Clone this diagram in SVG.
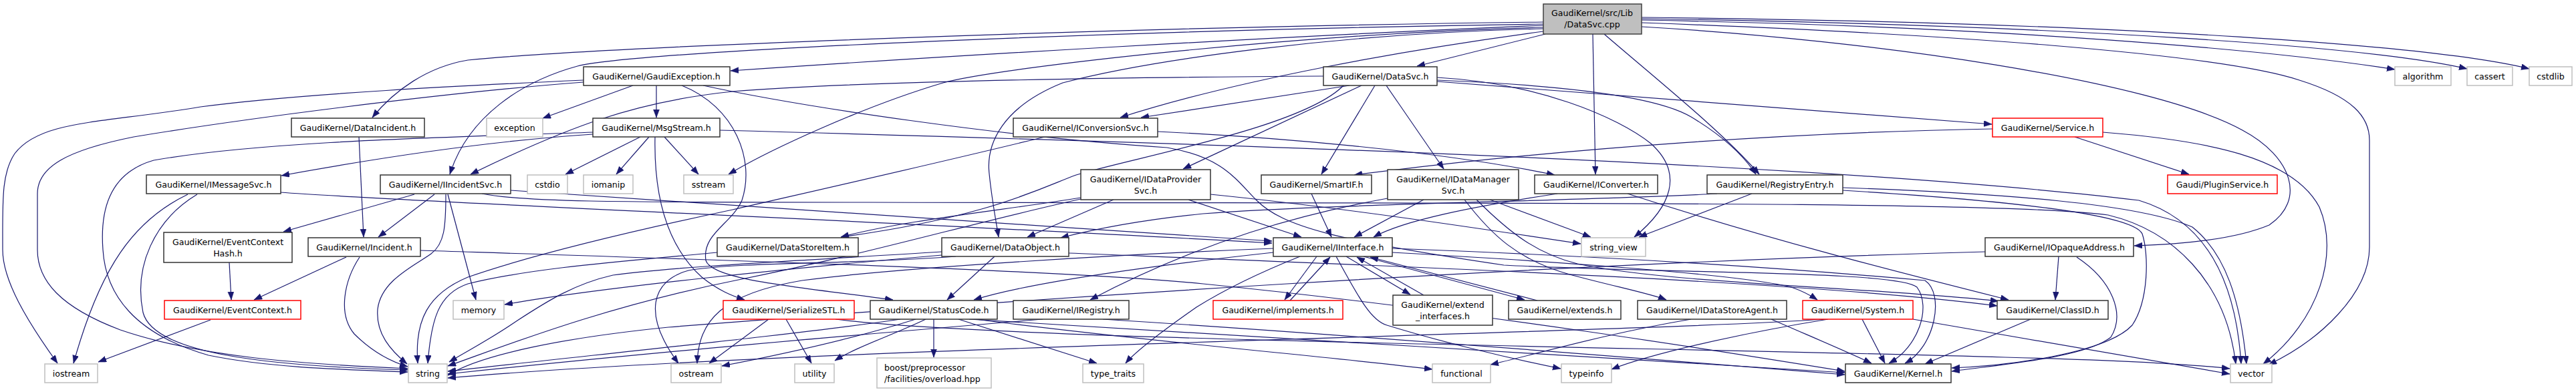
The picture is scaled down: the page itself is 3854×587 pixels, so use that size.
<svg xmlns="http://www.w3.org/2000/svg" width="3854" height="587" viewBox="0 0 3854 587">
<style>
.e{fill:none;stroke:#191970;stroke-width:1.2;marker-end:url(#ah)}
rect{fill:#fff;stroke-width:1.5}
.n rect{stroke:#333}
.g rect{stroke:#bfbfbf}
.r rect{stroke:#ff0000}
.root rect{fill:#bfbfbf;stroke:#404040}
text{font-family:"DejaVu Sans","Liberation Sans",sans-serif;font-size:12.6px;fill:#000;text-anchor:middle}
text.l{text-anchor:start}
</style>
<defs>
<marker id="ah" markerUnits="userSpaceOnUse" markerWidth="13" markerHeight="10" refX="12" refY="4.5" orient="auto"><path d="M0,0 L12,4.5 L0,9 z" fill="#191970" stroke="#191970" stroke-width="0.5"/></marker>
</defs>
<rect x="0" y="0" width="3854" height="587" style="fill:#fff;stroke:none"/>
<g id="edges">
<path class="e" d="M2309,38 C1900,55 1400,85 1093,106"/>
<path class="e" d="M2312,51 L2120,99"/>
<path class="e" d="M2309,33 C1700,40 900,70 700,90 C640,100 590,135 557,176"/>
<path class="e" d="M2309,36 C1700,45 960,75 864,99 C780,122 700,175 673,261"/>
<path class="e" d="M2309,43 C2000,50 1720,90 1590,124 C1500,160 1475,215 1480,260 C1484,300 1490,330 1494,355"/>
<path class="e" d="M2309,41 C1950,50 1500,100 1411,124 C1290,160 1150,225 1090,261"/>
<path class="e" d="M2309,47 C2100,75 1850,120 1676,176"/>
<path class="e" d="M2383,51 L2387,261"/>
<path class="e" d="M2400,51 C2480,120 2580,200 2632,261"/>
<path class="e" d="M2456,40 C2800,60 3220,120 3355,195 C3430,235 3450,300 3395,337 C3340,360 3260,366 3193,368"/>
<path class="e" d="M2456,34 C2900,50 3320,80 3440,120 C3520,145 3545,175 3545,210 L3545,370 C3545,440 3470,510 3394,546"/>
<path class="e" d="M2456,30 C3000,40 3400,75 3583,104"/>
<path class="e" d="M2456,28 C3100,38 3550,70 3691,103"/>
<path class="e" d="M2456,26 C3200,34 3650,70 3784,103"/>
<path class="e" d="M1980,114 C1600,116 1250,124 1096,137 C950,152 850,190 704,261"/>
<path class="e" d="M2019,128 L1707,176"/>
<path class="e" d="M2037,128 L1770,253"/>
<path class="e" d="M2057,128 L1977,261"/>
<path class="e" d="M2074,128 L2160,253"/>
<path class="e" d="M2150,120 C2350,128 2480,145 2530,175 C2580,205 2610,235 2627,261"/>
<path class="e" d="M2150,122 L2980,186"/>
<path class="e" d="M2150,116 C2300,124 2420,175 2470,215 C2520,260 2500,310 2445,355"/>
<path class="e" d="M2010,128 C1950,190 1700,235 1610,262 C1560,280 1480,325 1258,355"/>
<path class="e" d="M1563,205 C1400,245 1200,290 1096,314 C950,345 800,380 700,415 C640,440 620,480 625,544"/>
<path class="e" d="M1732,197 C1900,205 2150,225 2326,262"/>
<path class="e" d="M3104,205 L3275,261"/>
<path class="e" d="M2981,193 C2700,198 2350,220 2026,262"/>
<path class="e" d="M3146,198 C3300,210 3430,235 3470,310 C3500,380 3470,480 3386,545"/>
<path class="e" d="M620,291 L424,347"/>
<path class="e" d="M650,291 L566,355"/>
<path class="e" d="M667,291 C667,340 665,365 645,380 C620,398 570,420 565,463 C562,500 585,525 609,545"/>
<path class="e" d="M670,291 L712,449"/>
<path class="e" d="M764,285 C1000,300 1500,335 1903,361"/>
<path class="e" d="M721,290 C780,302 900,303 1300,303 C2200,305 3000,300 3154,322 C3250,345 3330,420 3345,545"/>
<path class="e" d="M281,291 C200,330 150,400 110,544"/>
<path class="e" d="M295,291 C230,330 200,400 214,468 C230,530 400,548 610,554"/>
<path class="e" d="M420,288 C600,302 1300,330 1903,364"/>
<path class="e" d="M343,393 L346,449"/>
<path class="e" d="M518,385 L380,449"/>
<path class="e" d="M538,385 C515,420 505,470 530,500 C555,525 580,540 610,549"/>
<path class="e" d="M629,375 C1100,390 1600,405 1800,425 C2200,465 2600,530 2760,556"/>
<path class="e" d="M537,205 L544,355"/>
<path class="e" d="M315,479 L147,542"/>
<path class="e" d="M947,128 L812,177"/>
<path class="e" d="M982,128 L982,176"/>
<path class="e" d="M873,120 C700,128 450,140 300,160 C150,185 60,180 22,230 C2,260 4,300 4,374 C4,420 40,480 86,544"/>
<path class="e" d="M873,123 C650,140 350,180 200,205 C100,225 56,250 56,290 L56,374 C56,420 90,460 180,494 C300,535 450,545 610,552"/>
<path class="e" d="M1020,128 C1100,160 1130,240 1110,300 C1095,335 1050,350 1056,390 C1065,420 1200,430 1336,449"/>
<path class="e" d="M1052,128 C1200,160 1500,205 1746,221 C1830,235 1850,270 1880,300 C1920,340 2000,360 2250,397 C2500,410 2840,405 2868,430 C2890,460 2870,520 2826,544"/>
<path class="e" d="M958,205 L846,261"/>
<path class="e" d="M971,205 L922,261"/>
<path class="e" d="M994,205 L1045,261"/>
<path class="e" d="M980,205 C978,300 1000,370 1050,415 C1075,435 1095,443 1114,449"/>
<path class="e" d="M887,201 C750,210 600,230 421,263"/>
<path class="e" d="M887,198 C700,205 400,210 230,240 C160,260 150,320 154,374 C158,440 200,500 312,532 C400,550 500,553 610,557"/>
<path class="e" d="M1077,195 C1700,212 2700,240 3200,300 C3300,330 3345,420 3353,545"/>
<path class="e" d="M1666,299 L1537,355"/>
<path class="e" d="M1778,299 L1947,355"/>
<path class="e" d="M1617,296 C1500,315 1350,330 1258,355"/>
<path class="e" d="M1617,298 C1450,335 1300,380 1100,420 C900,460 750,520 670,548"/>
<path class="e" d="M1811,291 C2000,310 2200,340 2365,365"/>
<path class="e" d="M1962,290 L1992,355"/>
<path class="e" d="M2130,299 L2026,355"/>
<path class="e" d="M2229,299 L2380,355"/>
<path class="e" d="M2191,299 C2230,350 2270,390 2352,412 C2420,430 2470,440 2493,449"/>
<path class="e" d="M2209,299 C2260,350 2300,380 2360,395 C2500,425 2800,430 2990,451"/>
<path class="e" d="M2076,297 C1950,320 1800,360 1631,449"/>
<path class="e" d="M2330,290 C2200,310 2100,330 2055,355"/>
<path class="e" d="M2435,290 C2650,360 2850,410 3005,449"/>
<path class="e" d="M2569,290 C2400,300 2000,305 1800,320 C1700,330 1630,345 1587,356"/>
<path class="e" d="M2621,290 L2452,355"/>
<path class="e" d="M2757,281 C3000,290 3200,305 3280,340 C3330,380 3352,450 3361,545"/>
<path class="e" d="M2757,285 C3000,300 3190,320 3205,350 C3215,380 3215,450 3190,487 C3150,530 3000,548 2920,551"/>
<path class="e" d="M3107,385 C3160,420 3180,470 3158,505 C3120,535 3000,545 2920,556"/>
<path class="e" d="M3080,384 L3075,449"/>
<path class="e" d="M2970,377 C2300,395 1500,450 1000,490 C850,505 720,530 670,562"/>
<path class="e" d="M1970,384 L1922,449"/>
<path class="e" d="M1930,450 L1990,385"/>
<path class="e" d="M2014,384 L2110,441"/>
<path class="e" d="M2130,442 L2030,385"/>
<path class="e" d="M2040,384 L2281,449"/>
<path class="e" d="M2300,450 L2050,385"/>
<path class="e" d="M1999,384 C2030,440 2050,480 2075,487 C2150,510 2250,535 2335,552"/>
<path class="e" d="M1945,384 C1880,410 1830,435 1790,460 C1740,495 1700,525 1684,544"/>
<path class="e" d="M1905,378 C1750,395 1550,420 1457,449"/>
<path class="e" d="M1905,372 C1700,380 1350,400 1200,420 C1080,440 1045,480 1043,544"/>
<path class="e" d="M2083,378 C2300,390 2600,410 2680,430 C2700,437 2710,443 2719,449"/>
<path class="e" d="M2083,372 C2300,380 2600,395 2880,420 C2910,440 2895,520 2850,544"/>
<path class="e" d="M1488,384 L1417,449"/>
<path class="e" d="M1599,379 C2000,395 2700,420 2988,458"/>
<path class="e" d="M1409,377 C1200,390 1000,400 917,412 C860,425 820,450 774,480 C730,510 700,525 672,542"/>
<path class="e" d="M1430,384 C1300,395 1100,392 1030,405 C975,420 960,470 1015,544"/>
<path class="e" d="M1409,382 C1200,400 900,430 755,456"/>
<path class="e" d="M1073,378 C950,390 800,400 700,425 C655,440 645,480 640,544"/>
<path class="e" d="M1150,478 L1061,544"/>
<path class="e" d="M1176,478 L1214,544"/>
<path class="e" d="M1250,478 C1500,510 2500,520 3000,535 C3200,540 3300,548 3336,552"/>
<path class="e" d="M1347,478 C1200,500 900,530 670,556"/>
<path class="e" d="M1370,478 C1300,500 1200,525 1080,548"/>
<path class="e" d="M1385,478 C1340,500 1280,520 1249,540"/>
<path class="e" d="M1397,478 L1397,535"/>
<path class="e" d="M1434,478 L1641,544"/>
<path class="e" d="M1460,478 C1700,510 2000,535 2143,553"/>
<path class="e" d="M1450,478 C1800,500 2400,535 2760,558"/>
<path class="e" d="M1560,478 C1300,500 1000,525 670,560"/>
<path class="e" d="M1650,478 C2000,500 2500,540 2760,561"/>
<path class="e" d="M2530,478 C2400,500 2300,530 2230,546"/>
<path class="e" d="M2650,478 C2700,500 2760,525 2800,544"/>
<path class="e" d="M2786,478 L2820,544"/>
<path class="e" d="M2735,478 C2600,500 2470,530 2411,553"/>
<path class="e" d="M2730,478 C2400,500 1200,520 670,566"/>
<path class="e" d="M2862,478 L3336,560"/>
<path class="e" d="M3038,478 L2880,545"/>
</g>
<g id="root" class="root"><rect x="2309" y="6" width="147" height="45"/><text x="2382" y="24">GaudiKernel/src/Lib</text><text x="2382" y="41">/DataSvc.cpp</text></g>
<g id="GaudiException" class="n"><rect x="873" y="100" width="219" height="28"/><text x="982" y="118.5">GaudiKernel/GaudiException.h</text></g>
<g id="DataSvcH" class="n"><rect x="1980" y="100" width="170" height="28"/><text x="2065" y="118.5">GaudiKernel/DataSvc.h</text></g>
<g id="algorithm" class="g"><rect x="3583" y="100" width="84" height="28"/><text x="3625" y="118.5">algorithm</text></g>
<g id="cassert" class="g"><rect x="3691" y="100" width="68" height="28"/><text x="3725" y="118.5">cassert</text></g>
<g id="cstdlib" class="g"><rect x="3784" y="100" width="64" height="28"/><text x="3816" y="118.5">cstdlib</text></g>
<g id="DataIncident" class="n"><rect x="436" y="177" width="199" height="28"/><text x="535.5" y="195.5">GaudiKernel/DataIncident.h</text></g>
<g id="exception" class="g"><rect x="728" y="177" width="84" height="28"/><text x="770" y="195.5">exception</text></g>
<g id="MsgStream" class="n"><rect x="887" y="177" width="190" height="28"/><text x="982" y="195.5">GaudiKernel/MsgStream.h</text></g>
<g id="IConversionSvc" class="n"><rect x="1516" y="177" width="216" height="28"/><text x="1624" y="195.5">GaudiKernel/IConversionSvc.h</text></g>
<g id="Service" class="r"><rect x="2981" y="177" width="165" height="28"/><text x="3063.5" y="195.5">GaudiKernel/Service.h</text></g>
<g id="IMessageSvc" class="n"><rect x="219" y="262" width="201" height="28"/><text x="319.5" y="280.5">GaudiKernel/IMessageSvc.h</text></g>
<g id="IIncidentSvc" class="n"><rect x="569" y="262" width="195" height="28"/><text x="666.5" y="280.5">GaudiKernel/IIncidentSvc.h</text></g>
<g id="cstdio" class="g"><rect x="789" y="262" width="60" height="28"/><text x="819" y="280.5">cstdio</text></g>
<g id="iomanip" class="g"><rect x="873" y="262" width="74" height="28"/><text x="910" y="280.5">iomanip</text></g>
<g id="sstream" class="g"><rect x="1023" y="262" width="74" height="28"/><text x="1060" y="280.5">sstream</text></g>
<g id="IDataProviderSvc" class="n"><rect x="1617" y="254" width="194" height="45"/><text x="1714" y="272.5">GaudiKernel/IDataProvider</text><text x="1714" y="289.5">Svc.h</text></g>
<g id="SmartIF" class="n"><rect x="1887" y="262" width="165" height="28"/><text x="1969.5" y="280.5">GaudiKernel/SmartIF.h</text></g>
<g id="IDataManagerSvc" class="n"><rect x="2076" y="254" width="196" height="45"/><text x="2174" y="272.5">GaudiKernel/IDataManager</text><text x="2174" y="289.5">Svc.h</text></g>
<g id="IConverter" class="n"><rect x="2296" y="262" width="184" height="28"/><text x="2388" y="280.5">GaudiKernel/IConverter.h</text></g>
<g id="RegistryEntry" class="n"><rect x="2554" y="262" width="203" height="28"/><text x="2655.5" y="280.5">GaudiKernel/RegistryEntry.h</text></g>
<g id="PluginService" class="r"><rect x="3243" y="262" width="164" height="28"/><text x="3325" y="280.5">Gaudi/PluginService.h</text></g>
<g id="EventContextHash" class="n"><rect x="245" y="348" width="192" height="45"/><text x="341" y="366.5">GaudiKernel/EventContext</text><text x="341" y="383.5">Hash.h</text></g>
<g id="Incident" class="n"><rect x="461" y="356" width="168" height="28"/><text x="545" y="374.5">GaudiKernel/Incident.h</text></g>
<g id="DataStoreItem" class="n"><rect x="1073" y="356" width="211" height="28"/><text x="1178.5" y="374.5">GaudiKernel/DataStoreItem.h</text></g>
<g id="DataObject" class="n"><rect x="1409" y="356" width="190" height="28"/><text x="1504" y="374.5">GaudiKernel/DataObject.h</text></g>
<g id="IInterface" class="n"><rect x="1905" y="356" width="178" height="28"/><text x="1994" y="374.5">GaudiKernel/IInterface.h</text></g>
<g id="string_view" class="g"><rect x="2366" y="356" width="96" height="28"/><text x="2414" y="374.5">string_view</text></g>
<g id="IOpaqueAddress" class="n"><rect x="2970" y="356" width="222" height="28"/><text x="3081" y="374.5">GaudiKernel/IOpaqueAddress.h</text></g>
<g id="EventContext" class="r"><rect x="246" y="450" width="204" height="28"/><text x="348" y="468.5">GaudiKernel/EventContext.h</text></g>
<g id="memory" class="g"><rect x="678" y="450" width="76" height="28"/><text x="716" y="468.5">memory</text></g>
<g id="SerializeSTL" class="r"><rect x="1082" y="450" width="196" height="28"/><text x="1180" y="468.5">GaudiKernel/SerializeSTL.h</text></g>
<g id="StatusCode" class="n"><rect x="1302" y="450" width="190" height="28"/><text x="1397" y="468.5">GaudiKernel/StatusCode.h</text></g>
<g id="IRegistry" class="n"><rect x="1516" y="450" width="173" height="28"/><text x="1602.5" y="468.5">GaudiKernel/IRegistry.h</text></g>
<g id="implements" class="r"><rect x="1815" y="450" width="194" height="28"/><text x="1912" y="468.5">GaudiKernel/implements.h</text></g>
<g id="extend_interfaces" class="n"><rect x="2084" y="442" width="149" height="45"/><text x="2158.5" y="460.5">GaudiKernel/extend</text><text x="2158.5" y="477.5">_interfaces.h</text></g>
<g id="extends" class="n"><rect x="2257" y="450" width="168" height="28"/><text x="2341" y="468.5">GaudiKernel/extends.h</text></g>
<g id="IDataStoreAgent" class="n"><rect x="2450" y="450" width="223" height="28"/><text x="2561.5" y="468.5">GaudiKernel/IDataStoreAgent.h</text></g>
<g id="System" class="r"><rect x="2697" y="450" width="165" height="28"/><text x="2779.5" y="468.5">GaudiKernel/System.h</text></g>
<g id="ClassID" class="n"><rect x="2988" y="450" width="166" height="28"/><text x="3071" y="468.5">GaudiKernel/ClassID.h</text></g>
<g id="iostream" class="g"><rect x="67" y="545" width="79" height="28"/><text x="106.5" y="563.5">iostream</text></g>
<g id="string" class="g"><rect x="611" y="545" width="58" height="28"/><text x="640" y="563.5">string</text></g>
<g id="ostream" class="g"><rect x="1004" y="545" width="75" height="28"/><text x="1041.5" y="563.5">ostream</text></g>
<g id="utility" class="g"><rect x="1189" y="545" width="59" height="28"/><text x="1218.5" y="563.5">utility</text></g>
<g id="boost" class="g"><rect x="1312" y="536" width="171" height="45"/><text class="l" x="1323" y="554.5">boost/preprocessor</text><text class="l" x="1323" y="571.5">/facilities/overload.hpp</text></g>
<g id="type_traits" class="g"><rect x="1620" y="545" width="91" height="28"/><text x="1665.5" y="563.5">type_traits</text></g>
<g id="functional" class="g"><rect x="2143" y="545" width="87" height="28"/><text x="2186.5" y="563.5">functional</text></g>
<g id="typeinfo" class="g"><rect x="2336" y="545" width="75" height="28"/><text x="2373.5" y="563.5">typeinfo</text></g>
<g id="Kernel" class="n"><rect x="2761" y="545" width="158" height="28"/><text x="2840" y="563.5">GaudiKernel/Kernel.h</text></g>
<g id="vector" class="g"><rect x="3337" y="545" width="62" height="28"/><text x="3368" y="563.5">vector</text></g>
</svg>
